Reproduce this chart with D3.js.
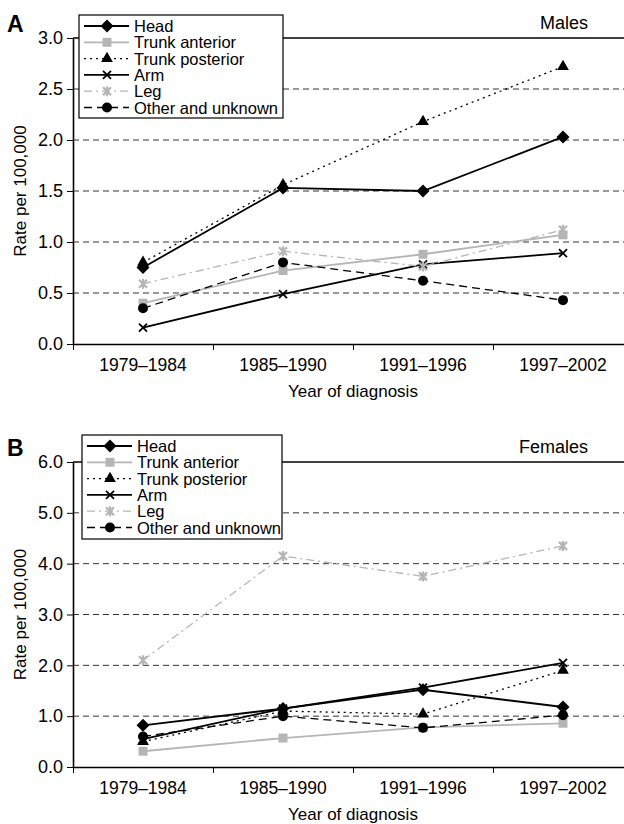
<!DOCTYPE html>
<html>
<head>
<meta charset="utf-8">
<script src="https://cdn.jsdelivr.net/npm/d3@7"></script>
<style>
  body { margin: 0; background: #fff; }
  svg { font-family: "Liberation Sans", Arial, sans-serif; }
</style>
</head>
<body>
<svg id="chart" width="624" height="824"></svg>
<script>
const periods = ["1979\u20131984", "1985\u20131990", "1991\u20131996", "1997\u20132002"];
const seriesNames = ["Head", "Trunk anterior", "Trunk posterior", "Arm", "Leg", "Other and unknown"];

const malesHead = [0.75, 1.53, 1.50, 2.03];
const malesTrunkAnt = [0.40, 0.72, 0.88, 1.07];
const malesTrunkPost = [0.80, 1.56, 2.18, 2.72];
const malesArm = [0.16, 0.49, 0.78, 0.89];
const malesLeg = [0.59, 0.91, 0.76, 1.12];
const malesOther = [0.35, 0.80, 0.62, 0.43];

const femalesHead = [0.82, 1.15, 1.52, 1.18];
const femalesTrunkAnt = [0.31, 0.57, 0.78, 0.86];
const femalesTrunkPost = [0.50, 1.10, 1.04, 1.90];
const femalesArm = [0.55, 1.15, 1.56, 2.05];
const femalesLeg = [2.10, 4.15, 3.75, 4.35];
const femalesOther = [0.60, 1.00, 0.77, 1.02];

const maleTicks = [0, 0.5, 1, 1.5, 2, 2.5, 3];
const femaleTicks = [0, 1, 2, 3, 4, 5, 6];

const gray = "#b5b5b5";
const styles = [
    {color: "#000", dash: null, width: 1.8, marker: "diamond"},
    {color: gray, dash: null, width: 1.8, marker: "square"},
    {color: "#000", dash: "2,4", width: 1.3, marker: "triangle"},
    {color: "#000", dash: null, width: 1.8, marker: "x"},
    {color: gray, dash: "8,4,2,4", width: 1.3, marker: "star"},
    {color: "#000", dash: "8,5", width: 1.3, marker: "circle"}
];

const svg = d3.select("#chart");

function drawMarker(g, type, color) {
    if (type === "diamond") {
        g.append("path").attr("d", "M0,-6.5L6.5,0L0,6.5L-6.5,0Z").attr("fill", color);
    } else if (type === "square") {
        g.append("path").attr("d", d3.symbol(d3.symbolSquare, 80)()).attr("fill", color);
    } else if (type === "triangle") {
        g.append("path").attr("d", d3.symbol(d3.symbolTriangle, 60)()).attr("fill", color);
    } else if (type === "circle") {
        g.append("circle").attr("r", 5).attr("fill", color);
    } else if (type === "x") {
        g.append("path").attr("d", "M-4,-4L4,4M-4,4L4,-4").attr("stroke", color).attr("stroke-width", 1.8);
    } else if (type === "star") {
        g.append("path").attr("d", "M-4,-4L4,4M-4,4L4,-4M0,-5L0,5").attr("stroke", color).attr("stroke-width", 2.2);
    }
}

function panel(opts) {
    const {top, bottom, letter, title, ymax, ticks, data, legendBox} = opts;
    const left = 73, right = 633;
    const g = svg.append("g");

    const x = d3.scaleBand().domain(periods).range([left, right]);
    const xb = d3.scaleLinear().domain([0, 4]).range([left, right]);
    const y = d3.scaleLinear().domain([0, ymax]).range([bottom, top]);

    // gridlines
    g.append("g").selectAll("line")
        .data(ticks.filter(t => t > 0 && t < ymax))
        .join("line")
        .attr("x1", left).attr("x2", right)
        .attr("y1", d => y(d)).attr("y2", d => y(d))
        .attr("stroke", "#333").attr("stroke-width", 1)
        .attr("stroke-dasharray", "6,4");
    g.append("line")
        .attr("x1", left).attr("x2", right)
        .attr("y1", y(ymax)).attr("y2", y(ymax))
        .attr("stroke", "#000").attr("stroke-width", 1.3);

    // y axis
    const yAxis = g.append("g")
        .attr("transform", `translate(${left},0)`)
        .call(d3.axisLeft(y).tickValues(ticks).tickSize(6).tickSizeOuter(0).tickFormat(d3.format(".1f")));
    yAxis.select(".domain").attr("stroke-width", 1.6);
    yAxis.selectAll("text").attr("font-size", 18).attr("fill", "#000").attr("x", -10);

    // x axis
    const xAxis = g.append("g")
        .attr("transform", `translate(0,${bottom})`)
        .call(d3.axisBottom(xb).tickValues([0, 1, 2, 3, 4]).tickSize(6).tickSizeOuter(0).tickFormat(""));
    xAxis.select(".domain").attr("stroke-width", 1.6);
    g.append("g").selectAll("text")
        .data(periods)
        .join("text")
        .attr("x", d => x(d) + x.bandwidth() / 2)
        .attr("y", bottom + 27)
        .attr("text-anchor", "middle")
        .attr("font-size", 17.5)
        .text(d => d);

    g.append("text")
        .attr("x", 353).attr("y", bottom + 53)
        .attr("text-anchor", "middle").attr("font-size", 17)
        .text("Year of diagnosis");

    g.append("text")
        .attr("transform", `translate(26,${(top + bottom) / 2}) rotate(-90)`)
        .attr("text-anchor", "middle").attr("font-size", 17)
        .text("Rate per 100,000");

    g.append("text")
        .attr("x", 7).attr("y", top - 6)
        .attr("font-size", 23).attr("font-weight", "bold")
        .text(letter);

    g.append("text")
        .attr("x", 588).attr("y", top - 9)
        .attr("text-anchor", "end").attr("font-size", 18)
        .text(title);

    // lines + markers
    const line = d3.line().x((d, i) => x(periods[i]) + x.bandwidth() / 2).y(d => y(d));
    data.forEach((vals, si) => {
        const s = styles[si];
        g.append("path")
            .attr("d", line(vals))
            .attr("fill", "none")
            .attr("stroke", s.color)
            .attr("stroke-width", s.width)
            .attr("stroke-dasharray", s.dash);
    });
    data.forEach((vals, si) => {
        const s = styles[si];
        vals.forEach((v, i) => {
            const m = g.append("g").attr("transform", `translate(${x(periods[i]) + x.bandwidth() / 2},${y(v)})`);
            drawMarker(m, s.marker, s.color);
        });
    });

    // legend
    const lg = g.append("g").attr("transform", `translate(${legendBox.x},${legendBox.y})`);
    lg.append("rect")
        .attr("width", legendBox.w).attr("height", legendBox.h)
        .attr("fill", "#fff").attr("stroke", "#000").attr("stroke-width", 1.2);
    seriesNames.forEach((name, i) => {
        const s = styles[i];
        const ry = 11 + i * 16.3;
        lg.append("line")
            .attr("x1", 5).attr("x2", 50).attr("y1", ry).attr("y2", ry)
            .attr("stroke", s.color).attr("stroke-width", s.width)
            .attr("stroke-dasharray", s.dash);
        drawMarker(lg.append("g").attr("transform", `translate(28,${ry})`), s.marker, s.color);
        lg.append("text")
            .attr("x", 55).attr("y", ry + 6)
            .attr("font-size", 16.5)
            .text(name);
    });
}

panel({
    top: 38, bottom: 344, letter: "A", title: "Males", ymax: 3, ticks: maleTicks,
    data: [malesHead, malesTrunkAnt, malesTrunkPost, malesArm, malesLeg, malesOther],
    legendBox: {x: 79, y: 15, w: 204, h: 103}
});
panel({
    top: 462, bottom: 767, letter: "B", title: "Females", ymax: 6, ticks: femaleTicks,
    data: [femalesHead, femalesTrunkAnt, femalesTrunkPost, femalesArm, femalesLeg, femalesOther],
    legendBox: {x: 82, y: 435, w: 200, h: 104}
});
</script>
</body>
</html>
